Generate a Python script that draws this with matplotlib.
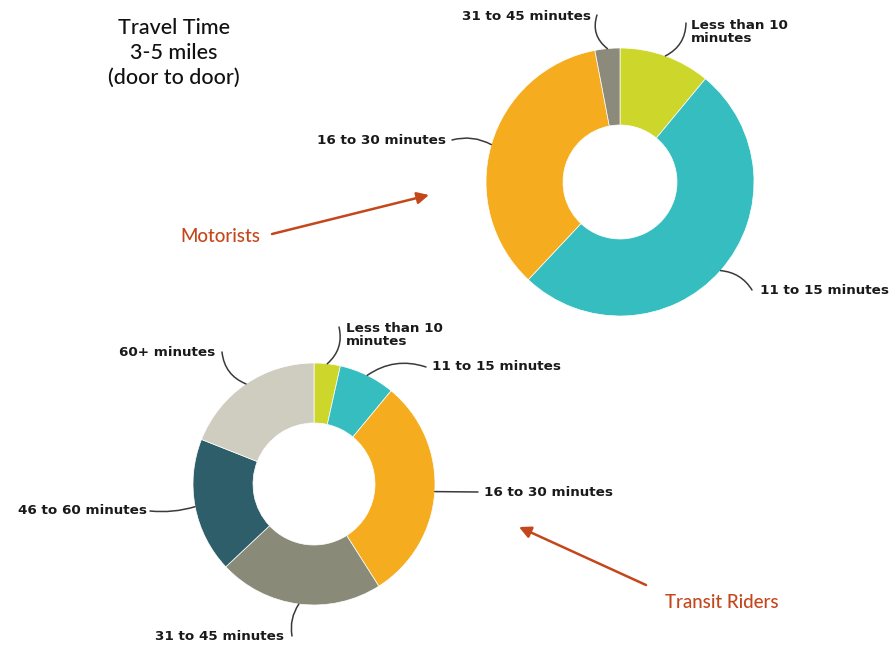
import numpy as np
import matplotlib
matplotlib.use("Agg")
import matplotlib.pyplot as plt

# Travel time shares (percent of trips), 3-5 miles door to door
motorist_labels = ["Less than 10\nminutes", "11 to 15 minutes", "16 to 30 minutes", "31 to 45 minutes"]
motorist_values = [11, 51, 35, 3]
motorist_colors = ["#cdd62b", "#35bdbf", "#f5ad1f", "#8b8a7b"]

transit_labels = ["Less than 10\nminutes", "11 to 15 minutes", "16 to 30 minutes",
                  "31 to 45 minutes", "46 to 60 minutes", "60+ minutes"]
transit_values = [3.5, 7.5, 30, 22, 18, 19]
transit_colors = ["#cdd62b", "#35bdbf", "#f5ad1f", "#8a8a79", "#2e5e6a", "#cfcdc0"]

W, H = 896, 646
fig = plt.figure(figsize=(W / 100, H / 100), dpi=100)
ax = fig.add_axes([0, 0, 1, 1])
ax.set_xlim(0, W)
ax.set_ylim(0, H)
ax.set_aspect("equal")
ax.axis("off")


def Y(y):
    """Convert a top-down pixel row into the axes' upward y coordinate."""
    return H - y


def donut(values, colors, labels, cx, cy, r, width, label_spots):
    wedges, _ = ax.pie(values, colors=colors, startangle=90, counterclock=False,
                       center=(cx, Y(cy)), radius=r, frame=True,
                       wedgeprops=dict(width=width, edgecolor="white", linewidth=0.5))
    for w, lab, spot in zip(wedges, labels, label_spots):
        mid = np.deg2rad((w.theta1 + w.theta2) / 2)
        px, py = cx + r * np.cos(mid), Y(cy) + r * np.sin(mid)
        (ex, ey), (tx, ty), ha, rad = spot
        ax.annotate("", xy=(px, py), xytext=(ex, Y(ey)),
                    arrowprops=dict(arrowstyle="-", color="#3a3a3a", lw=1.1,
                                    connectionstyle=f"arc3,rad={rad}",
                                    shrinkA=0, shrinkB=0))
        ax.text(tx, Y(ty), lab, ha=ha, va="center", fontsize=9.7, fontweight="bold",
                color="#1a1a1a", linespacing=0.95, family="DejaVu Sans")


# Motorists donut
donut(motorist_values, motorist_colors, motorist_labels, 620, 182, 134, 77,
      [((686, 23), (691, 32), "left", -0.3),
       ((752, 290), (760, 290), "left", 0.25),
       ((452, 140), (446, 140), "right", -0.2),
       ((597, 15), (591, 17), "right", 0.35)])

# Transit riders donut
donut(transit_values, transit_colors, transit_labels, 314, 484, 121, 60,
      [((339, 327), (346, 335), "left", -0.3),
       ((426, 367), (432, 367), "left", 0.25),
       ((478, 492), (484, 492), "left", 0.0),
       ((292, 636), (284, 637), "right", -0.2),
       ((150, 511), (147, 511), "right", 0.1),
       ((222, 352), (215, 353), "right", 0.3)])

# Heading
ax.text(174, Y(53), "Travel Time\n3-5 miles\n(door to door)", ha="center", va="center",
        fontsize=15.5, family="Lato", fontweight="medium", color="#111111",
        linespacing=1.32)

# Group callouts
accent = "#c4471c"
ax.text(220, Y(236), "Motorists", ha="center", va="center", fontsize=13.5,
        family="Lato", fontweight="medium", color=accent)
ax.annotate("", xy=(429, Y(195)), xytext=(272, Y(234)),
            arrowprops=dict(arrowstyle="-|>,head_length=0.7,head_width=0.35",
                            color=accent, lw=1.8, shrinkA=0, shrinkB=0))
ax.text(722, Y(603), "Transit Riders", ha="center", va="center", fontsize=13.5,
        family="Lato", fontweight="medium", color=accent)
ax.annotate("", xy=(519, Y(527)), xytext=(646, Y(585)),
            arrowprops=dict(arrowstyle="-|>,head_length=0.7,head_width=0.35",
                            color=accent, lw=1.8, shrinkA=0, shrinkB=0))

fig.savefig("out.png", dpi=100, facecolor="white")
